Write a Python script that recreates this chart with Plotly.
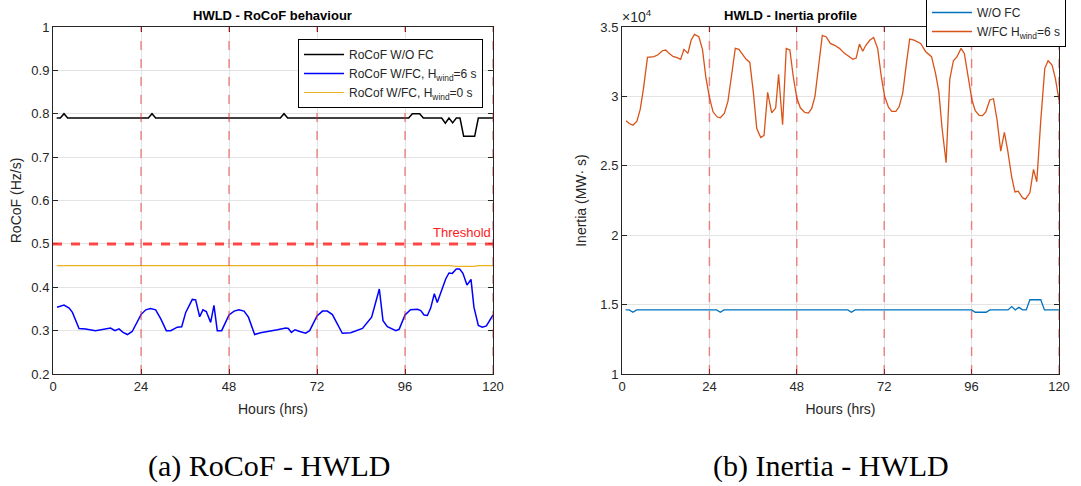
import plotly.graph_objects as go

# ---------------- data ----------------
# Left: RoCoF W/O FC (black)
rocof_wo_h = [1, 2, 3, 4, 26, 27, 28, 62, 63, 64, 97, 98, 100, 101, 106, 107, 108, 109, 110, 111, 112, 113, 115, 116, 120]
rocof_wo_v = [0.79, 0.79, 0.80, 0.79, 0.79, 0.80, 0.79, 0.79, 0.80, 0.79, 0.79, 0.80, 0.80, 0.79, 0.79, 0.778,
              0.79, 0.779, 0.79, 0.79, 0.748, 0.748, 0.748, 0.79, 0.79]

# Left: RoCoF W/FC, Hwind = 6 s (blue)
rocof_h6_h = [1.1, 3, 4.4, 5.3, 7.1, 8.9, 11.6, 13.5, 15.7, 16.9, 18, 19.1, 20.3, 21.6, 23, 24, 25.3, 26.6, 28,
              29.4, 30.9, 32.1, 33.9, 35.1, 36.2, 38, 38.9, 40, 40.9, 41.8, 43, 43.9, 44.8, 46, 48, 49.4, 50.7,
              52.1, 53.3, 55, 56.6, 58.9, 61.2, 63.5, 64.2, 65, 66, 67.3, 68.9, 70, 72, 73.5, 74.8, 76.2, 78.9,
              81.2, 84.4, 86.9, 89, 90, 91.2, 93.5, 94.4, 96, 97.5, 99.4, 100.3, 101.2, 102.1, 103, 104, 104.8,
              105.7, 107.1, 108, 108.9, 110, 110.9, 111.8, 112.9, 114, 114.8, 116, 117.1, 118.2, 120]
rocof_h6_v = [0.354, 0.359, 0.352, 0.342, 0.305, 0.304, 0.300, 0.303, 0.306, 0.300, 0.304, 0.296, 0.291, 0.298,
              0.319, 0.337, 0.348, 0.351, 0.348, 0.327, 0.300, 0.300, 0.308, 0.309, 0.342, 0.372, 0.371, 0.332,
              0.348, 0.344, 0.319, 0.358, 0.300, 0.300, 0.336, 0.345, 0.348, 0.345, 0.331, 0.291, 0.295, 0.298,
              0.302, 0.306, 0.305, 0.296, 0.302, 0.298, 0.294, 0.300, 0.334, 0.345, 0.345, 0.337, 0.294, 0.295,
              0.305, 0.331, 0.396, 0.323, 0.309, 0.300, 0.303, 0.336, 0.348, 0.349, 0.346, 0.336, 0.335, 0.352,
              0.385, 0.365, 0.385, 0.419, 0.433, 0.432, 0.442, 0.442, 0.432, 0.405, 0.418, 0.354, 0.312, 0.308,
              0.311, 0.336]

# Left: RoCoF W/FC, Hwind = 0 s (yellow)
rocof_h0_h = [1, 108, 110, 115, 116, 120]
rocof_h0_v = [0.45, 0.45, 0.448, 0.448, 0.45, 0.45]

threshold = 0.5
day_marks = [24, 48, 72, 96, 120]

# Right: inertia W/O FC (MW*s)
inert_wo_h = [1, 2, 3, 4, 26, 27, 28, 62, 63, 64, 96, 97, 100, 101, 106, 107, 108, 109, 110, 111, 112, 113, 115, 116, 120]
inert_wo_v = [14620, 14620, 14450, 14620, 14620, 14450, 14620, 14620, 14450, 14620, 14620, 14450, 14450, 14620,
              14620, 14860, 14620, 14800, 14620, 14620, 15350, 15350, 15350, 14620, 14620]

# Right: inertia W/FC, Hwind = 6 s (MW*s)
inert_h6_h = [1.1, 2, 3, 4.1, 5, 5.9, 7, 8.8, 9.9, 11.1, 12, 12.9, 14.1, 15, 16.1, 17, 18.1, 19, 19.9, 21.1, 22.1,
              23, 24, 25, 26.1, 27, 28.1, 29.1, 30.1, 31.1, 32.1, 33.1, 34.1, 35.1, 36.1, 37, 38.1, 39, 40, 41.1,
              42.2, 43, 44.1, 45.1, 46.1, 47, 48, 49, 50.2, 51.2, 52.1, 53, 54, 55, 56.1, 57.2, 58.4, 59.7, 61.1,
              62.5, 63.4, 64.3, 65.2, 66.1, 67, 68.1, 69.1, 70.2, 71.2, 72.1, 73.2, 74.1, 75.2, 76.1, 77.1, 78.1,
              79, 80.2, 82, 83.4, 85, 86.1, 87, 87.9, 89, 90, 91, 92, 93.1, 94, 95.2, 96.1, 97, 98.1, 99, 99.9,
              101, 102, 103, 104, 105, 105.9, 107, 107.9, 108.8, 110, 110.8, 112, 113, 113.9, 115, 116.1, 117,
              118.1, 119, 120]
inert_h6_v = [28250, 28050, 27930, 28220, 29060, 30580, 32810, 32860, 33000, 33290, 33340, 33100, 32860, 32810,
              32670, 33390, 33100, 34060, 34470, 34300, 33390, 31420, 29930, 28890, 28530, 28460, 28770, 29660,
              31540, 33460, 33390, 33050, 32670, 32450, 30220, 27690, 27040, 27190, 30290, 28820, 29160, 31590,
              27960, 33460, 33340, 31470, 29880, 29160, 28850, 28800, 29130, 30020, 32140, 34400, 34280, 33820,
              33680, 33460, 33100, 32860, 32670, 32760, 33770, 33250, 33700, 34060, 34250, 33460, 31420, 30020,
              29210, 28920, 28920, 29250, 30260, 32380, 34130, 34060, 33820, 33220, 32860, 31660, 30340, 27690,
              25220, 31230, 32570, 32860, 33460, 33100, 31180, 29740, 28970, 28630, 28610, 28890, 29740, 29830,
              28290, 26060, 27400, 26130, 24210, 23120, 23170, 22690, 22600, 23050, 24740, 23850, 28290, 32020,
              32570, 32260, 31300, 29740]

y2_tickvals = [10000, 15000, 20000, 25000, 30000, 35000]
y2_ticktext = ["1", "1.5", "2", "2.5", "3", "3.5"]
x_ticks = [0, 24, 48, 72, 96, 120]

# ---------------- figure ----------------
W, H = 1081, 486
AX = "#262626"
GRID = "#e3e3e3"
FONT = "Liberation Sans, Arial, sans-serif"
SERIF = "Liberation Serif, DejaVu Serif, serif"


def px(x):
    return x / W


def py(y):
    return 1 - y / H


fig = go.Figure()

fig.add_trace(go.Scatter(x=rocof_wo_h, y=rocof_wo_v, mode="lines", name="RoCoF W/O FC",
                         line=dict(color="#000000", width=1.5), xaxis="x", yaxis="y", legend="legend"))
fig.add_trace(go.Scatter(x=rocof_h6_h, y=rocof_h6_v, mode="lines", name="RoCoF W/FC, H<sub>wind</sub>=6 s",
                         line=dict(color="#0000ff", width=1.5), xaxis="x", yaxis="y", legend="legend"))
fig.add_trace(go.Scatter(x=rocof_h0_h, y=rocof_h0_v, mode="lines", name="RoCof W/FC, H<sub>wind</sub>=0 s",
                         line=dict(color="#EDB120", width=1.2), xaxis="x", yaxis="y", legend="legend"))

fig.add_trace(go.Scatter(x=inert_wo_h, y=inert_wo_v, mode="lines", name="W/O FC",
                         line=dict(color="#0072BD", width=1.3), xaxis="x2", yaxis="y2", legend="legend2"))
fig.add_trace(go.Scatter(x=inert_h6_h, y=inert_h6_v, mode="lines", name="W/FC H<sub>wind</sub>=6 s",
                         line=dict(color="#D95319", width=1.3), xaxis="x2", yaxis="y2", legend="legend2"))

# threshold line
fig.add_shape(type="line", xref="x", yref="y", x0=0, x1=120, y0=threshold, y1=threshold,
              line=dict(color="rgba(255,40,40,0.85)", width=3, dash="dash"), layer="above")
# day separators
for xa, ya in (("x", "y"), ("x2", "y2")):
    for d in day_marks:
        fig.add_shape(type="line", xref=xa, yref=f"{ya} domain", x0=d, x1=d, y0=0, y1=1,
                      line=dict(color="rgba(235,50,50,0.55)", width=1.5, dash="dash"), layer="above")


def xax(domain, anchor):
    return dict(domain=domain, anchor=anchor, range=[0, 120], tickvals=x_ticks, automargin=False,
                ticks="inside", ticklen=5, tickcolor=AX, mirror="ticks", showline=True, linecolor=AX,
                linewidth=1, showgrid=True, gridcolor=GRID, zeroline=False,
                tickfont=dict(family=FONT, size=13, color=AX),
                title=dict(text="Hours (hrs)", font=dict(family=FONT, size=14, color=AX), standoff=11))


def yax(domain, anchor, **kw):
    d = dict(domain=domain, anchor=anchor, ticks="inside", ticklen=5, tickcolor=AX, mirror="ticks",
             automargin=False, showline=True, linecolor=AX, linewidth=1, showgrid=True, gridcolor=GRID,
             zeroline=False, tickfont=dict(family=FONT, size=13, color=AX))
    d.update(kw)
    return d


ydom = [py(374), py(27)]
fig.update_layout(
    width=W, height=H,
    margin=dict(l=0, r=0, t=0, b=0, autoexpand=False),
    paper_bgcolor="white", plot_bgcolor="white",
    font=dict(family=FONT, color=AX),
    xaxis=xax([px(53), px(493)], "y"),
    yaxis=yax(ydom, "x", range=[0.2, 1.0], tickvals=[0.2, 0.3, 0.4, 0.5, 0.6, 0.7, 0.8, 0.9, 1.0],
              ticktext=["0.2", "0.3", "0.4", "0.5", "0.6", "0.7", "0.8", "0.9", "1"],
              title=dict(text="RoCoF (Hz/s)", font=dict(family=FONT, size=14, color=AX), standoff=6)),
    xaxis2=xax([px(622), px(1059)], "y2"),
    yaxis2=yax(ydom, "x2", range=[10000, 35000], tickvals=y2_tickvals, ticktext=y2_ticktext,
               title=dict(text="Inertia (MW· s)", font=dict(family=FONT, size=14, color=AX), standoff=10)),
    legend=dict(x=px(483), y=py(39), xanchor="right", yanchor="top", bgcolor="white",
                bordercolor="#000000", borderwidth=1, font=dict(family=FONT, size=12, color=AX),
                tracegroupgap=2, itemwidth=40),
    legend2=dict(x=px(1066), y=py(-3), xanchor="right", yanchor="top", bgcolor="white",
                 bordercolor="#000000", borderwidth=1, font=dict(family=FONT, size=12, color=AX),
                 itemwidth=40),
    showlegend=True,
)

ann = [
    dict(text="<b>HWLD - RoCoF behaviour</b>", x=px(273), y=py(16), xref="paper", yref="paper",
         xanchor="center", yanchor="middle", showarrow=False, font=dict(family=FONT, size=13, color="#000000")),
    dict(text="<b>HWLD - Inertia profile</b>", x=px(790), y=py(16), xref="paper", yref="paper",
         xanchor="center", yanchor="middle", showarrow=False, font=dict(family=FONT, size=13, color="#000000")),
    dict(text="×10<sup>4</sup>", x=px(620), y=py(16), xref="paper", yref="paper", xanchor="left",
         yanchor="middle", showarrow=False, font=dict(family=FONT, size=14, color=AX)),
    dict(text="Threshold", x=120, y=threshold, xref="x", yref="y", xanchor="right", yanchor="bottom",
         yshift=2, showarrow=False, font=dict(family=FONT, size=13, color="#ff2020")),
    dict(text="(a) RoCoF - HWLD", x=px(269), y=py(466), xref="paper", yref="paper",
         xanchor="center", yanchor="middle", showarrow=False, font=dict(family=SERIF, size=30, color="#000000")),
    dict(text="(b) Inertia - HWLD", x=px(831), y=py(466), xref="paper", yref="paper",
         xanchor="center", yanchor="middle", showarrow=False, font=dict(family=SERIF, size=30, color="#000000")),
]
fig.update_layout(annotations=ann)

fig.write_html("out.html", config={"displayModeBar": False},
               post_script="document.body.style.margin='0';document.body.style.padding='0';")
